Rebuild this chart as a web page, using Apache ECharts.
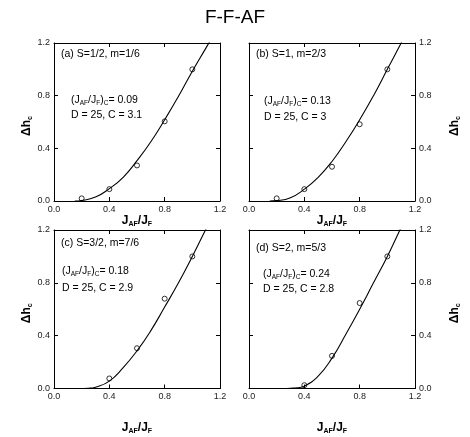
<!DOCTYPE html>
<html>
<head>
<meta charset="utf-8">
<script src="https://cdn.jsdelivr.net/npm/echarts@6/dist/echarts.min.js"></script>
<style>
html,body{margin:0;padding:0;background:#fff;}
#chart{width:470px;height:437px;}
</style>
</head>
<body>
<div id="chart"></div>
<script>
// ---- data ----
const chartTitle = 'F-F-AF';
const axisTicks = [0, 0.4, 0.8, 1.2];
const panelLabels = ['(a) S=1/2, m=1/6', '(b) S=1, m=2/3', '(c) S=3/2, m=7/6', '(d) S=2, m=5/3'];
const criticalValues = ['0.09', '0.13', '0.18', '0.24'];
const paramLabels = ['D = 25, C = 3.1', 'D = 25, C = 3', 'D = 25, C = 2.9', 'D = 25, C = 2.8'];

const pointsA = [[0.2, 0.02], [0.4, 0.09], [0.6, 0.27], [0.8, 0.605], [1.0, 1.0]];
const pointsB = [[0.2, 0.02], [0.4, 0.09], [0.6, 0.26], [0.8, 0.583], [1.0, 1.0]];
const pointsC = [[0.4, 0.076], [0.6, 0.305], [0.8, 0.68], [1.0, 1.0]];
const pointsD = [[0.4, 0.025], [0.6, 0.247], [0.8, 0.647], [1.0, 1.0]];

const curveA = [[0.15, 0], [0.2, 0.004], [0.3, 0.03], [0.4, 0.094], [0.5, 0.18], [0.6, 0.306], [0.7, 0.45], [0.8, 0.617], [0.9, 0.795], [1.0, 0.985], [1.1, 1.165], [1.15, 1.255]];
const curveB = [[0.15, 0], [0.2, 0.003], [0.3, 0.025], [0.4, 0.09], [0.5, 0.18], [0.6, 0.30], [0.7, 0.45], [0.8, 0.617], [0.9, 0.80], [1.0, 1.0], [1.1, 1.2], [1.15, 1.3]];
const curveC = [[0.18, 0], [0.25, 0.002], [0.3, 0.01], [0.4, 0.056], [0.5, 0.158], [0.6, 0.285], [0.7, 0.438], [0.8, 0.617], [0.9, 0.80], [1.0, 1.0], [1.1, 1.21], [1.15, 1.31]];
const curveD = [[0.24, 0], [0.3, 0.002], [0.35, 0.006], [0.4, 0.018], [0.5, 0.094], [0.6, 0.23], [0.7, 0.41], [0.8, 0.60], [0.9, 0.80], [1.0, 1.0], [1.1, 1.22], [1.15, 1.33]];

const allPoints = [pointsA, pointsB, pointsC, pointsD];
const allCurves = [curveA, curveB, curveC, curveD];

// ---- layout ----
const FONT = 'Liberation Sans, Arial, sans-serif';
const grids = [
  {left: 54, top: 43, width: 166, height: 158},
  {left: 249, top: 43, width: 166, height: 158},
  {left: 54, top: 230, width: 166, height: 158.5},
  {left: 249, top: 230, width: 166, height: 158.5}
];
const xNameGap = [11, 11, 32, 32];
const textPos = [
  {l1: [61, 55], l2: [71, 101], l3: [71, 116]},
  {l1: [256, 55], l2: [264, 102], l3: [264, 118]},
  {l1: [61, 244], l2: [62, 272], l3: [62, 289]},
  {l1: [256, 249], l2: [263, 275], l3: [263, 290]}
];

const lineStyle = {color: '#000', width: 1};
const richName = {
  b: {fontSize: 12, fontWeight: 'bold', fontFamily: FONT, color: '#000', lineHeight: 14},
  s: {fontSize: 7, fontWeight: 'bold', fontFamily: FONT, color: '#000', lineHeight: 3, verticalAlign: 'bottom'}
};
const richAnn = {
  n: {fontSize: 10.5, fontFamily: FONT, color: '#000', lineHeight: 12},
  s: {fontSize: 6.5, fontFamily: FONT, color: '#000', lineHeight: 3, verticalAlign: 'bottom'}
};

const xAxes = [], yAxes = [], series = [], graphics = [];
grids.forEach((g, i) => {
  const isRight = (i % 2 === 1);
  const base = {
    type: 'value', min: axisTicks[0], max: axisTicks[axisTicks.length - 1],
    interval: axisTicks[1] - axisTicks[0], gridIndex: i,
    axisLine: {show: true, onZero: false, lineStyle: lineStyle},
    axisTick: {show: true, inside: true, length: 4, lineStyle: lineStyle},
    splitLine: {show: false}
  };
  const labelStyle = {
    show: true, fontSize: 9, fontFamily: FONT, color: '#222', margin: 4,
    formatter: v => v.toFixed(1)
  };
  xAxes.push(Object.assign({}, base, {
    position: 'bottom', axisLabel: labelStyle,
    name: '{b|J}{s|AF}{b|/J}{s|F}', nameLocation: 'middle', nameGap: xNameGap[i],
    nameTextStyle: {rich: richName}
  }));
  xAxes.push(Object.assign({}, base, {position: 'top', axisLabel: {show: false}}));
  yAxes.push(Object.assign({}, base, {
    position: isRight ? 'right' : 'left', axisLabel: labelStyle,
    name: '{b|Δh}{s|c}', nameLocation: 'middle', nameRotate: 90,
    nameGap: isRight ? 33 : 20,
    nameTextStyle: {rich: richName, padding: [0, 8, 0, 0]}
  }));
  yAxes.push(Object.assign({}, base, {position: isRight ? 'left' : 'right', axisLabel: {show: false}}));

  series.push({
    type: 'line', xAxisIndex: 2 * i, yAxisIndex: 2 * i,
    data: allCurves[i], smooth: 0.5, showSymbol: false,
    lineStyle: {color: '#000', width: 1.1}, clip: true, silent: true, z: 2
  });
  series.push({
    type: 'scatter', xAxisIndex: 2 * i, yAxisIndex: 2 * i,
    data: allPoints[i], symbol: 'circle', symbolSize: 5,
    itemStyle: {color: 'rgba(0,0,0,0)', borderColor: '#000', borderWidth: 1}, z: 3
  });

  const p = textPos[i];
  graphics.push({type: 'text', left: p.l1[0], top: p.l1[1] - 6,
    style: {text: panelLabels[i], fontSize: 10.5, fontFamily: FONT, fill: '#000'}});
  graphics.push({type: 'text', left: p.l2[0], top: p.l2[1] - 6,
    style: {text: '{n|(J}{s|AF}{n|/J}{s|F}{n|)}{s|C}{n|= ' + criticalValues[i] + '}', rich: richAnn}});
  graphics.push({type: 'text', left: p.l3[0], top: p.l3[1] - 6,
    style: {text: paramLabels[i], fontSize: 10.5, fontFamily: FONT, fill: '#000'}});
});

const chart = echarts.init(document.getElementById('chart'), null, {renderer: 'canvas'});
chart.setOption({
  animation: false,
  backgroundColor: '#fff',
  title: {text: chartTitle, left: 'center', top: 3,
    textStyle: {fontSize: 19, fontWeight: 'normal', fontFamily: FONT, color: '#000'}},
  grid: grids,
  xAxis: xAxes,
  yAxis: yAxes,
  series: series,
  graphic: graphics
});
</script>
</body>
</html>
